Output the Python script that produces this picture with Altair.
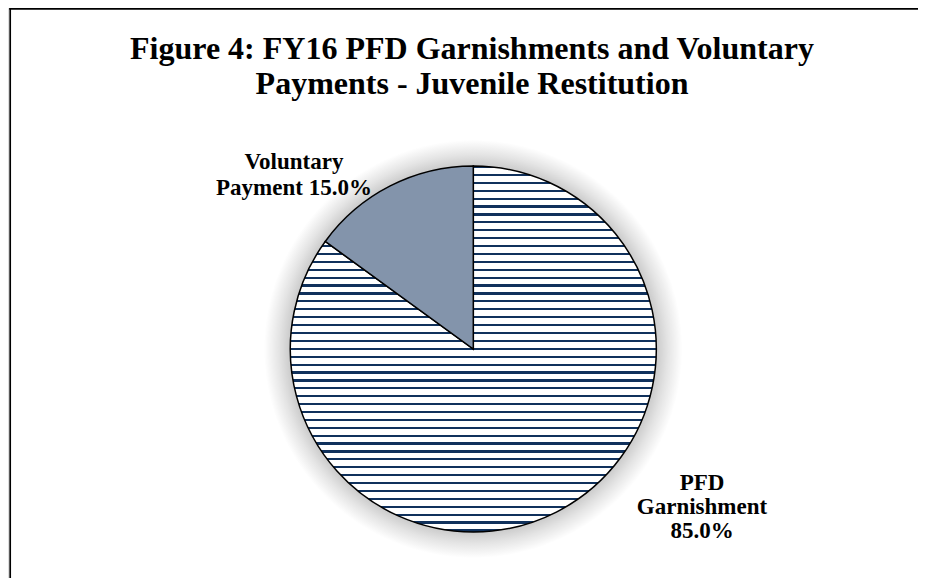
import altair as alt
import pandas as pd

# ---- data ----
categories = ["PFD Garnishment", "Voluntary Payment"]
values = [85.0, 15.0]
label_lines = [["PFD", "Garnishment"], ["Voluntary", "Payment"]]
title_lines = ["Figure 4: FY16 PFD Garnishments and Voluntary",
               "Payments - Juvenile Restitution"]

NAVY = "#10315c"
DOT = "#8394ab"
SERIF = "Liberation Serif"

# pie geometry (style)
CX, CY, R = 465.3, 341.0, 183.0

# horizontal-stripe fill as a sharp-stop linear gradient
period = 7.9 / (2 * R)
thick = 2.2 / (2 * R)
stops = []
s = 0.0
while s < 1.0:
    e = min(s + thick, 1.0)
    stops += [{"offset": round(s, 5), "color": NAVY},
              {"offset": round(e, 5), "color": NAVY},
              {"offset": round(e, 5), "color": "#ffffff"},
              {"offset": round(min(s + period, 1.0), 5), "color": "#ffffff"}]
    s += period
stripes = {"gradient": "linear", "x1": 0, "y1": 0, "x2": 0, "y2": 1, "stops": stops}

shadow_grad = {"gradient": "radial", "x1": 0.5, "y1": 0.5, "r1": 0,
               "x2": 0.5, "y2": 0.5, "r2": 0.5,
               "stops": [{"offset": 0, "color": "#c8c8c8"},
                         {"offset": 0.87, "color": "#c8c8c8"},
                         {"offset": 0.93, "color": "#e4e4e4"},
                         {"offset": 1, "color": "#ffffff"}]}

df = pd.DataFrame({
    "category": categories,
    "value": values,
    "idx": list(range(len(categories))),
})
df["label"] = [
    "\n".join(lines) + "\n" + f"{v:.1f}%" if c.startswith("PFD") else
    "\n".join(lines[:-1]) + "\n" + lines[-1] + f" {v:.1f}%"
    for lines, v, c in zip(label_lines, values, categories)
]

one = pd.DataFrame({"k": [0]})

shadow = alt.Chart(one).mark_arc(theta=0, theta2=6.28319, radius=R + 26,
                                 fill=shadow_grad).encode(
    x=alt.value(CX), y=alt.value(CY))

pie = alt.Chart(df).mark_arc(radius=R, stroke="black", strokeWidth=1.5).encode(
    theta=alt.Theta("value:Q", stack=True),
    order=alt.Order("idx:O"),
    fill=alt.condition(f"datum.category == '{categories[0]}'",
                       alt.value(stripes), alt.value(DOT)),
    x=alt.value(CX), y=alt.value(CY),
)

lab_font = dict(font=SERIF, fontWeight="bold", fontSize=23, color="black",
                align="center", baseline="alphabetic", lineBreak="\n")

lab_pfd = alt.Chart(df).transform_filter(
    f"datum.category == '{categories[0]}'").mark_text(lineHeight=24, **lab_font).encode(
    text="label:N", x=alt.value(694), y=alt.value(482))

lab_vol = alt.Chart(df).transform_filter(
    f"datum.category == '{categories[1]}'").mark_text(lineHeight=26.5, **lab_font).encode(
    text="label:N", x=alt.value(286), y=alt.value(160.5))

title = alt.Chart(pd.DataFrame({"t": ["\n".join(title_lines)]})).mark_text(
    font=SERIF, fontWeight="bold", fontSize=32, color="black", align="center",
    baseline="alphabetic", lineBreak="\n", lineHeight=35).encode(
    text="t:N", x=alt.value(464), y=alt.value(51))

top_rule = alt.Chart(one).mark_rule(color="black", strokeWidth=1.7).encode(
    x=alt.value(1.3), x2=alt.value(910), y=alt.value(0.8))
left_rule = alt.Chart(one).mark_rule(color="black", strokeWidth=1.7).encode(
    x=alt.value(2.2), y=alt.value(0), y2=alt.value(570))

chart = alt.layer(shadow, pie, lab_pfd, lab_vol, title, top_rule, left_rule).properties(
    width=910, height=570, autosize="none", padding=0,
).configure_view(stroke=None).configure(background="white")

chart.save("out.html", embed_options={"renderer": "svg", "actions": False})
